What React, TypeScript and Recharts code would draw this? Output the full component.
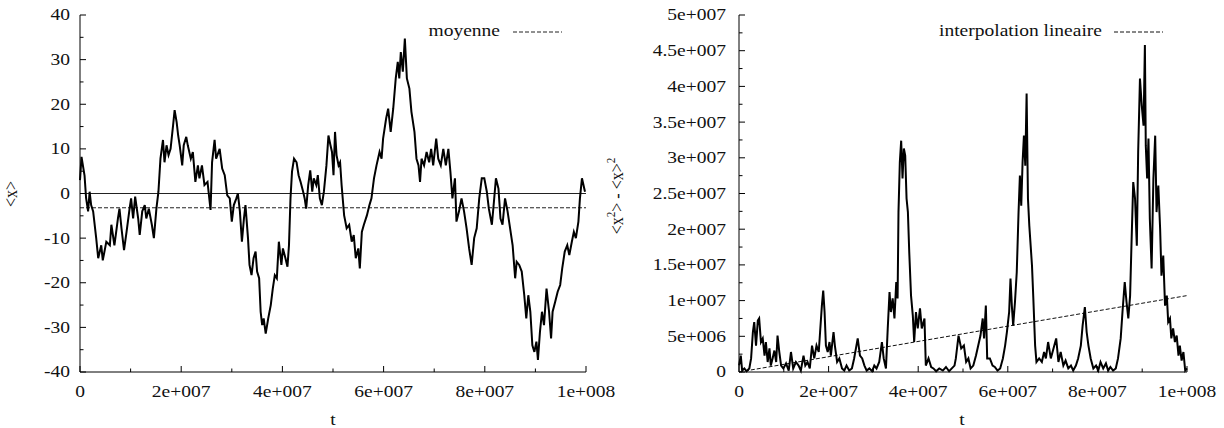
import { LineChart, Line, XAxis, YAxis, ReferenceLine } from 'recharts'

const FONT = '"Liberation Serif", "Times New Roman", serif'
const SX = 1.22 // the source picture is stretched sideways

// time of each reading, in units of 1e6
const walkT = [
  0, 0.3, 0.9, 1.2, 1.6, 1.9, 2.2, 2.6, 3.2, 3.6, 4.2, 4.5, 5.2, 5.9, 6.2, 6.8, 7.5, 7.8, 8.2, 8.7,
  9.2, 9.8, 10.1, 10.5, 10.9, 11.5, 11.8, 12.3, 12.8, 13.1, 13.6, 14.2, 14.6, 15.1, 15.5, 15.9, 16.4, 16.7, 17.1, 17.5,
  17.9, 18.4, 18.7, 19.1, 19.4, 19.7, 20.2, 20.5, 21, 21.3, 21.9, 22.3, 22.8, 23.3, 23.6, 24.1, 24.6, 25.2, 25.8, 26.1,
  26.6, 26.9, 27.6, 28.1, 28.6, 29.1, 29.6, 30, 30.4, 30.9, 31.2, 31.6, 32, 32.4, 32.7, 33.2, 33.5, 33.9, 34.3, 34.7,
  35, 35.4, 35.7, 36, 36.3, 36.7, 37.2, 37.7, 38.1, 38.5, 38.9, 39.3, 39.8, 40.1, 40.6, 41, 41.3, 41.6, 41.9, 42.3,
  42.8, 43.2, 43.6, 44.1, 44.4, 44.7, 45.1, 45.5, 45.9, 46.2, 46.7, 47, 47.4, 47.8, 48.2, 48.7, 49.1, 49.5, 49.8, 50.1,
  50.4, 50.7, 51.1, 51.4, 51.7, 52.2, 52.7, 53.2, 53.7, 54.1, 54.5, 55, 55.3, 55.7, 56.1, 56.7, 57.2, 57.6, 58.1, 58.6,
  59.2, 59.6, 59.9, 60.5, 60.9, 61.4, 61.9, 62.4, 62.8, 63.1, 63.4, 63.8, 64.2, 64.6, 65.1, 65.5, 66.1, 66.5, 66.9, 67.2,
  67.5, 68, 68.5, 69, 69.4, 69.8, 70.4, 70.8, 71.3, 71.8, 72.3, 72.8, 73.2, 73.6, 74.1, 74.4, 74.9, 75.4, 75.9, 76.4,
  76.9, 77.4, 77.9, 78.4, 78.9, 79.4, 79.9, 80.4, 80.8, 81.4, 81.8, 82.2, 82.7, 83.1, 83.5, 84, 84.5, 85, 85.5, 86,
  86.3, 86.8, 87.3, 87.8, 88.2, 88.6, 89, 89.4, 89.8, 90.2, 90.5, 90.9, 91.3, 91.7, 92.2, 92.7, 93.1, 93.4, 93.9, 94.4,
  94.9, 95.3, 95.8, 96.3, 96.7, 97.2, 97.6, 98, 98.5, 98.8, 99.2, 99.5, 99.8,
]
// <x>
const walkX = [
  3, 8.2, 4, -1, -4, 0.4, -2.6, -4, -10, -14.5, -11.6, -15, -10.8, -11.6, -7, -11.6, -5.6, -3.4, -7.8, -12.7,
  -8.6, -3.4, -1.1, -5.6, -0.7, -5.6, -9.3, -4, -2.6, -5.6, -3.4, -7, -10, -3.4, 0.4, 7.8, 12, 7, 10.8, 8.6,
  10, 15.3, 18.7, 16, 13, 10.8, 6.3, 10.8, 12.7, 10.8, 7.8, 9.3, 2.6, 6.3, 3.4, 6.3, 1.9, 2.6, -3.7, 7,
  12, 7.8, 10, 5.6, 4.1, -0.4, -1.1, -6.3, -2.6, -1.1, 0, -4, -10.8, -5.6, -2.6, -10, -16, -18.3, -14.5, -13,
  -17.5, -19, -26.5, -29.5, -28, -31.4, -28, -25, -21.3, -18.3, -19, -10.8, -16, -12.3, -14.5, -16.4, -11.6, -1.1, 4.9, 7.8,
  7, 4.1, 2.6, 0.4, -1.1, -3.4, 1.9, 5.2, 0.4, 3.4, 1.9, 4.1, -1.1, -2.6, 0.4, 6.3, 13, 10.8, 9.3, 4.1,
  13.8, 8.6, 6.3, 7, 1.9, -4.9, -7.8, -7, -10.8, -9.3, -14.5, -12.3, -16.8, -8.6, -7, -4.9, -2.6, -1.1, 3.4, 6.3,
  9.3, 7.8, 12.3, 16.8, 19, 13.8, 19, 25.8, 29.5, 25.8, 31.7, 27.3, 34.7, 25.8, 23.5, 18.3, 13.8, 7.8, 6.3, 2.6,
  7.8, 6.3, 9.3, 7, 10, 6.3, 12.3, 7.8, 6.3, 10, 6.3, 10, 4.9, -1.1, 3.4, -6.3, -4, -1.1, -4, -7.8,
  -12.3, -16, -10, -7.8, -1.1, 3.4, 3.4, 0.4, -3.4, -7, -1.9, 3.4, 1.1, -5.6, -7, -1.1, -4, -7.8, -11.6, -19,
  -15.3, -16, -17.5, -22.8, -28, -22.8, -26.5, -34, -35.5, -33.2, -37.3, -31, -26.5, -29.5, -21.3, -26.5, -32.5, -26.5, -24.3, -22,
  -20.5, -16.8, -13, -11.6, -13.8, -10.8, -8.6, -10, -6.3, -1.1, 3.4, 1.9, 0.4,
]
const moyenne = -3.2

// time of each reading, in units of 1e6
const varT = [
  0, 0.4, 0.7, 1.2, 1.7, 2.3, 2.7, 3.1, 3.4, 3.8, 4.2, 4.5, 4.9, 5.3, 5.7, 6, 6.4, 6.8, 7.1, 7.5,
  7.9, 8.3, 8.6, 9, 9.4, 9.9, 10.5, 11.1, 11.6, 12.1, 12.7, 13.3, 13.8, 14.4, 14.8, 15.3, 15.8, 16.3, 16.8, 17.3,
  17.8, 18.1, 18.5, 18.8, 19.1, 19.4, 19.8, 20.2, 20.5, 21.1, 21.4, 21.9, 22.4, 23, 23.5, 24, 24.6, 25.2, 25.7, 26.5,
  27, 27.5, 28, 28.5, 29.1, 29.7, 30.2, 30.7, 31.3, 31.9, 32.3, 32.8, 33.2, 33.6, 33.9, 34.3, 34.7, 35.1, 35.4, 35.6,
  35.9, 36.2, 36.5, 36.8, 37.1, 37.4, 37.7, 38, 38.4, 38.8, 39.1, 39.5, 39.9, 40.4, 40.8, 41.4, 41.7, 42.3, 42.9, 43.4,
  44, 44.7, 45.5, 46.2, 46.9, 47.5, 48.1, 48.4, 49, 49.6, 50.2, 50.7, 51.2, 51.7, 52.3, 52.9, 53.4, 53.9, 54.4, 54.7,
  55.1, 55.4, 56, 56.6, 57.1, 57.7, 58.3, 58.9, 59.4, 59.8, 60.3, 60.6, 60.9, 61.2, 61.6, 62, 62.4, 62.7, 63, 63.3,
  63.6, 63.9, 64.2, 64.5, 64.8, 65.1, 65.4, 65.7, 66.1, 66.4, 67, 67.6, 68.1, 68.5, 69, 69.6, 70.2, 70.8, 71.3, 71.8,
  72.4, 72.9, 73.5, 74.1, 74.6, 75.2, 75.7, 76.3, 76.7, 77.2, 77.6, 78, 78.5, 79.1, 79.7, 80.2, 80.7, 81.3, 81.9, 82.4,
  82.9, 83.5, 84.1, 84.6, 85.2, 85.6, 86.1, 86.5, 86.9, 87.3, 87.6, 88, 88.4, 88.8, 89.1, 89.5, 89.9, 90.3, 90.6, 90.8,
  91.1, 91.4, 91.7, 92.1, 92.5, 92.9, 93.2, 93.6, 94, 94.3, 94.7, 95.1, 95.5, 95.8, 96.2, 96.5, 96.9, 97.3, 97.7, 98.1,
  98.4, 98.8, 99.2, 99.6, 100,
]
// <x^2> - <x>^2, in units of 1e6
const varV = [
  0.9, 2.3, 0.2, 0.5, 0.1, 0.5, 1.9, 5.6, 7, 3.7, 7.2, 7.5, 4.2, 4.7, 2.3, 4.2, 1.4, 3.3, 0.9, 1.9,
  3, 1.4, 5.1, 2.8, 0.9, 0.5, 1.2, 0.2, 2.8, 0.5, 1.4, 0.9, 0.2, 2.3, 0.9, 1.4, 0.5, 3.7, 1.9, 3.7,
  2.8, 5.6, 9.3, 11.4, 8.4, 3.7, 2.8, 4.2, 2.3, 5.6, 3.7, 1.4, 1.9, 0.5, 0.2, 0.9, 0.2, 0.5, 1.9, 4.7,
  2.3, 1.9, 0.9, 0.2, 0.5, 0.1, 0.9, 0.5, 1.4, 4.2, 1.9, 0.5, 6.1, 11.2, 8.4, 10.3, 7.5, 12.6, 10.3, 22.4,
  29.4, 32.4, 27.1, 31.3, 30.3, 24.3, 22.4, 16.8, 10.7, 7.9, 4.2, 8.4, 6.1, 8.9, 6.1, 7.5, 0.9, 1.9, 0.7, 0.5,
  0.1, 0.5, 0.2, 0.7, 0.1, 0.5, 0.9, 1.9, 5.1, 3.3, 3.7, 1.4, 1.9, 0.5, 0.9, 2.3, 3.7, 5.1, 7.5, 4.7,
  9.3, 1.9, 1.9, 0.9, 0.7, 0.2, 0.5, 1.9, 3.7, 5.6, 8.4, 13.1, 9.3, 6.5, 9.8, 14, 22.4, 27.5, 23.3, 29.4,
  33.1, 28.9, 39, 24.3, 20.5, 17.7, 14.9, 10.3, 3.7, 1.4, 1.9, 1.4, 2.8, 1.9, 4.2, 1.9, 3.3, 4.7, 1.4, 2.8,
  0.9, 1.6, 0.5, 0.9, 0.2, 0.9, 1.9, 3.7, 6.5, 9.1, 5.6, 3.7, 1.9, 0.5, 0.9, 0.2, 1.4, 0.5, 1.2, 0.2,
  0.7, 0.2, 0.5, 1.9, 4.7, 8.4, 12.6, 9.8, 7.5, 10.7, 17.7, 26.6, 24.3, 17.7, 30.8, 41.1, 37.3, 34.5, 45.8, 31.7,
  27.1, 32.7, 21.5, 14.5, 27.1, 33.1, 22.4, 26.1, 20.1, 13.5, 16.3, 9.3, 10.7, 7, 7.5, 4.7, 6.1, 4.2, 5.1, 2.3,
  3.7, 1.6, 2.8, 0.2, 0.5,
]
// interpolation lineaire: end points (t in 1e6, value in 1e6)
const fitT = [0, 100]
const fitV = [0, 10.7]

const xMajor = [0, 2e7, 4e7, 6e7, 8e7, 1e8]
const xMajorLabels = ['0', '2e+007', '4e+007', '6e+007', '8e+007', '1e+008']
const xMinor = [1e7, 3e7, 5e7, 7e7, 9e7]

const leftYMajor = [-40, -30, -20, -10, 0, 10, 20, 30, 40]
const leftYLabels = ['-40', '-30', '-20', '-10', '0', '10', '20', '30', '40']
const leftYMinor = [-35, -25, -15, -5, 5, 15, 25, 35]

const rightYMajor = [0, 5e6, 1e7, 1.5e7, 2e7, 2.5e7, 3e7, 3.5e7, 4e7, 4.5e7, 5e7]
const rightYLabels = ['0', '5e+006', '1e+007', '1.5e+007', '2e+007', '2.5e+007', '3e+007', '3.5e+007', '4e+007', '4.5e+007', '5e+007']
const rightYMinor = [2.5e6, 7.5e6, 1.25e7, 1.75e7, 2.25e7, 2.75e7, 3.25e7, 3.75e7, 4.25e7, 4.75e7]

const walkData = walkT.map((t, i) => ({ t: t * 1e6, x: walkX[i] }))
const meanData = [{ t: 0, m: moyenne }, { t: 1e8, m: moyenne }]
const varData = varT.map((t, i) => ({ t: t * 1e6, v: varV[i] * 1e6 }))
const fitData = fitT.map((t, i) => ({ t: t * 1e6, f: fitV[i] * 1e6 }))

const xTicks = [...xMajor, ...xMinor].sort((a, b) => a - b)
const MAJOR = 6
const MINOR = 3.5

// text stretched sideways like the source
function T({ x, y, anchor = 'start', dy, children }: any) {
  return (
    <text transform={`translate(${x},${y}) scale(${SX},1)`} textAnchor={anchor} dy={dy}
      fontFamily={FONT} fontSize={16} fill="#111">
      {children}
    </text>
  )
}

function xTick(side: 'bottom' | 'top') {
  return (p: any) => {
    const v = p.payload.value
    const i = xMajor.indexOf(v)
    const len = i >= 0 ? MAJOR : MINOR
    const dir = side === 'bottom' ? -1 : 1
    return (
      <g>
        <line x1={p.x} x2={p.x} y1={p.y} y2={p.y + dir * len} stroke="#000" />
        {side === 'bottom' && i >= 0 && <T x={p.x} y={p.y + 25} anchor="middle">{xMajorLabels[i]}</T>}
      </g>
    )
  }
}

function yTick(side: 'left' | 'right', majors: number[], labels: string[], gap: number) {
  return (p: any) => {
    const v = p.payload.value
    const i = majors.indexOf(v)
    const len = i >= 0 ? MAJOR : MINOR
    const dir = side === 'left' ? 1 : -1
    return (
      <g>
        <line x1={p.x} x2={p.x + dir * len} y1={p.y} y2={p.y} stroke="#000" />
        {side === 'left' && i >= 0 && <T x={p.x - gap} y={p.y} dy="0.34em" anchor="end">{labels[i]}</T>}
      </g>
    )
  }
}

function frame(yTicks: number[], yMajor: number[], yLabels: string[], yDomain: number[]) {
  return [
    <XAxis key="xb" xAxisId="b" dataKey="t" type="number" domain={[0, 1e8]} ticks={xTicks} interval={0}
      height={56} tickSize={0} tickMargin={0} tickLine={false} axisLine={{ stroke: '#000' }} tick={xTick('bottom')} />,
    <XAxis key="xt" xAxisId="t" orientation="top" dataKey="t" type="number" domain={[0, 1e8]} ticks={xTicks} interval={0}
      height={0} tickSize={0} tickMargin={0} tickLine={false} axisLine={{ stroke: '#000' }} tick={xTick('top')} />,
    <YAxis key="yr" yAxisId="r" orientation="right" type="number" domain={yDomain} ticks={yTicks} interval={0}
      width={0} tickSize={0} tickMargin={0} tickLine={false} axisLine={{ stroke: '#000' }}
      tick={yTick('right', yMajor, yLabels, 0)} />,
  ]
}

export default function App() {
  const leftYTicks = [...leftYMajor, ...leftYMinor].sort((a, b) => a - b)
  const rightYTicks = [...rightYMajor, ...rightYMinor].sort((a, b) => a - b)

  return (
    <div style={{ position: 'absolute', left: 0, top: 0, width: 1224, height: 428, background: '#fff', overflow: 'hidden' }}>
      <div style={{ position: 'absolute', left: 0, top: 0 }}>
        <LineChart width={640} height={428} margin={{ top: 15, right: 54, bottom: 0, left: 0 }}>
          {frame(leftYTicks, leftYMajor, leftYLabels, [-40, 40])}
          <YAxis yAxisId="l" type="number" domain={[-40, 40]} ticks={leftYTicks} interval={0} width={80}
            tickSize={0} tickMargin={0} tickLine={false} axisLine={{ stroke: '#000' }}
            tick={yTick('left', leftYMajor, leftYLabels, 10)} />
          <ReferenceLine xAxisId="b" yAxisId="l" y={0} stroke="#222" strokeWidth={1} />
          <Line data={meanData} xAxisId="b" yAxisId="l" dataKey="m" stroke="#222" strokeWidth={1}
            strokeDasharray="4 2" dot={false} isAnimationActive={false} />
          <Line data={walkData} xAxisId="b" yAxisId="l" dataKey="x" stroke="#000" strokeWidth={2}
            strokeLinejoin="miter" dot={false} isAnimationActive={false} />
        </LineChart>
      </div>
      <div style={{ position: 'absolute', left: 612, top: 0 }}>
        <LineChart width={612} height={428} margin={{ top: 15, right: 37, bottom: 0, left: 0 }}>
          {frame(rightYTicks, rightYMajor, rightYLabels, [0, 5e7])}
          <YAxis yAxisId="l" type="number" domain={[0, 5e7]} ticks={rightYTicks} interval={0} width={127}
            tickSize={0} tickMargin={0} tickLine={false} axisLine={{ stroke: '#000' }}
            tick={yTick('left', rightYMajor, rightYLabels, 13)} />
          <Line data={fitData} xAxisId="b" yAxisId="l" dataKey="f" stroke="#111" strokeWidth={1}
            strokeDasharray="4 2" dot={false} isAnimationActive={false} />
          <Line data={varData} xAxisId="b" yAxisId="l" dataKey="v" stroke="#000" strokeWidth={2}
            strokeLinejoin="miter" dot={false} isAnimationActive={false} />
        </LineChart>
      </div>
      <svg width={1224} height={428} style={{ position: 'absolute', left: 0, top: 0, pointerEvents: 'none' }}>
        <T x={500} y={36} anchor="end">moyenne</T>
        <T x={1102} y={36} anchor="end">interpolation lineaire</T>
        <T x={333} y={425} anchor="middle">t</T>
        <T x={962} y={425} anchor="middle">t</T>
        <text transform="translate(17,194) rotate(-90) scale(1,1.15)" textAnchor="middle"
          fontFamily={FONT} fontSize={16} fill="#111">{'<x>'}</text>
        <text transform="translate(623,196) rotate(-90) scale(1,1.15)" textAnchor="middle"
          fontFamily={FONT} fontSize={16} fill="#111">
          {'<x'}<tspan dy={-7} fontSize={11}>2</tspan><tspan dy={7}>{'> - <x>'}</tspan><tspan dy={-7} fontSize={11}>2</tspan>
        </text>
        <line x1={513} x2={562} y1={32} y2={32} stroke="#222" strokeDasharray="4 2" />
        <line x1={1114} x2={1163} y1={32} y2={32} stroke="#111" strokeDasharray="4 2" />
      </svg>
    </div>
  )
}
